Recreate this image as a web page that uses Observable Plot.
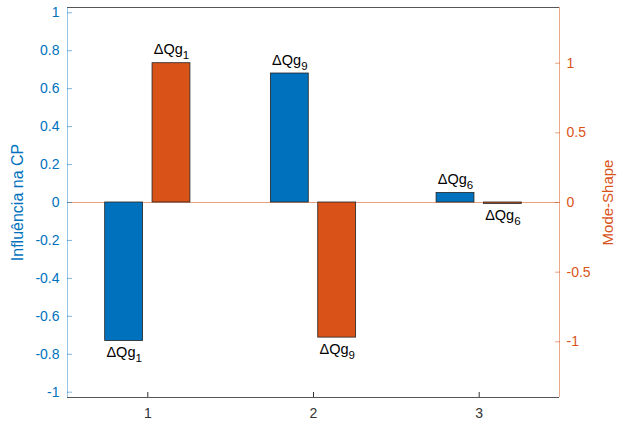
<!DOCTYPE html>
<html><head><meta charset="utf-8">
<script src="https://cdn.jsdelivr.net/npm/d3@7"></script>
<script src="https://cdn.jsdelivr.net/npm/@observablehq/plot@0.6"></script>
<style>body{margin:0;background:#fff}</style>
</head><body><div id="chart"></div>
<script>
const categories = [1, 2, 3];
const influencia = [-0.73, 0.68, 0.05];
const modeShape = [1.0, -0.97, -0.01];
const influenciaLabels = ["ΔQg|1", "ΔQg|9", "ΔQg|6"];
const modeShapeLabels = ["ΔQg|1", "ΔQg|9", "ΔQg|6"];
const leftTicks = [-1, -0.8, -0.6, -0.4, -0.2, 0, 0.2, 0.4, 0.6, 0.8, 1];
const rightTicks = [-1, -0.5, 0, 0.5, 1];
const xTicks = [1, 2, 3];
const leftTitle = "Influência na CP";
const rightTitle = "Mode-Shape";

const blue = "#0072BD", orange = "#D95319";
const xDomain = [0.5153, 3.4847];
const leftMax = 1.028, rightMax = 1.4;
const toLeft = v => v * leftMax / rightMax;
const fromLeft = v => v * rightMax / leftMax;
const barW = 0.2286, off = 0.1429;

const rows = [];
categories.forEach((c, i) => {
  rows.push({cat: c, series: "inf", yv: influencia[i], label: influenciaLabels[i], pos: c - off});
  rows.push({cat: c, series: "mode", yv: toLeft(modeShape[i]), label: modeShapeLabels[i], pos: c + off});
});

const svg = Plot.plot({
  width: 623, height: 425,
  marginLeft: 67, marginRight: 64, marginTop: 7, marginBottom: 28,
  style: {fontFamily: "'Liberation Sans', Arial, sans-serif", fontSize: "14px", background: "#fff"},
  x: {type: "linear", domain: xDomain, axis: null},
  y: {domain: [-leftMax, leftMax], axis: null},
  marks: [
    Plot.ruleY([0], {stroke: orange, strokeOpacity: 0.55}),
    Plot.rect(rows, {
      x1: d => d.pos - barW / 2, x2: d => d.pos + barW / 2,
      y1: 0, y2: "yv",
      fill: d => d.series === "inf" ? blue : orange,
      stroke: "#222", strokeWidth: 0.8
    }),
    Plot.text(rows.filter(d => d.yv >= 0), {x: "pos", y: "yv", text: "label", lineAnchor: "bottom", dy: -9, fontSize: 14.5, fill: "#000"}),
    Plot.text(rows.filter(d => d.yv < 0), {x: "pos", y: "yv", text: "label", lineAnchor: "top", dy: 6, fontSize: 14.5, fill: "#000"}),
    Plot.ruleY([leftMax], {stroke: "#555"}),
    Plot.ruleY([-leftMax], {stroke: "#555"}),
    Plot.ruleX([xDomain[0]], {stroke: blue, strokeOpacity: 0.4}),
    Plot.ruleX([xDomain[1]], {stroke: orange, strokeOpacity: 0.5}),
    Plot.axisY(leftTicks, {anchor: "left", tickSize: -5, tickPadding: 13, color: blue, strokeOpacity: 0.5, tickFormat: d => String(d), label: null}),
    Plot.axisY(rightTicks.map(toLeft), {anchor: "right", tickSize: -5, tickPadding: 12, color: orange, strokeOpacity: 0.55, tickFormat: d => String(+fromLeft(d).toFixed(2)), label: null}),
    Plot.axisX(xTicks, {anchor: "bottom", tickSize: -5, tickPadding: 16, color: "#333", tickFormat: d => String(d), label: null}),
    Plot.text([leftTitle], {frameAnchor: "left", textAnchor: "middle", lineAnchor: "middle", dx: -50, rotate: -90, fill: blue, fontSize: 16}),
    Plot.text([rightTitle], {frameAnchor: "right", textAnchor: "middle", lineAnchor: "middle", dx: 49, rotate: -90, fill: orange, fontSize: 15})
  ]
});

svg.querySelectorAll("text").forEach(t => {
  if (t.children.length || !t.textContent.includes("|")) return;
  const [main, sub] = t.textContent.split("|");
  t.textContent = main;
  const ts = document.createElementNS("http://www.w3.org/2000/svg", "tspan");
  ts.setAttribute("dy", "5");
  ts.setAttribute("font-size", "11.5");
  ts.textContent = sub;
  t.appendChild(ts);
});

document.getElementById("chart").appendChild(svg);
</script>
</body></html>
